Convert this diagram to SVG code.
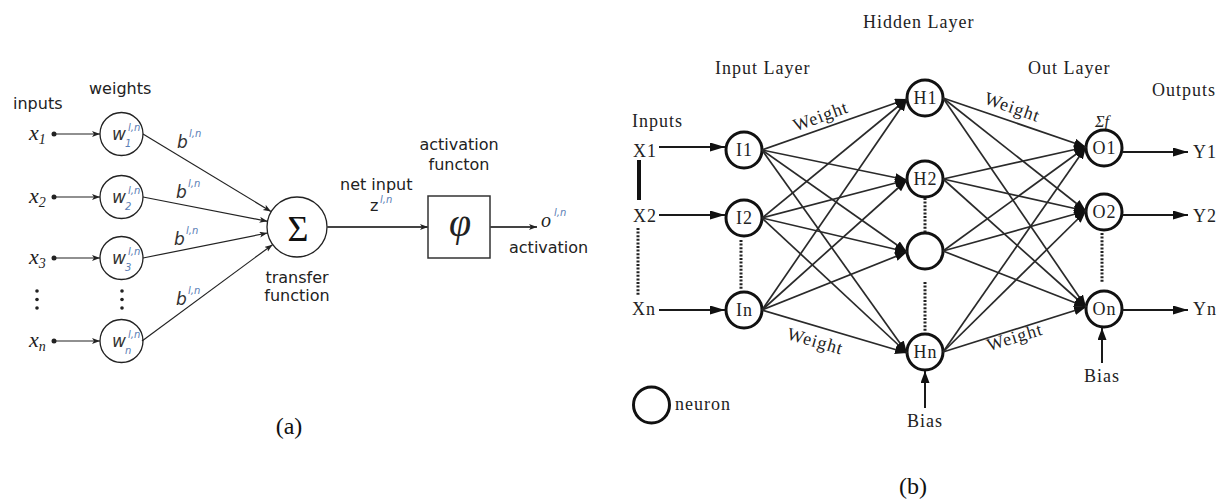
<svg xmlns="http://www.w3.org/2000/svg" width="1226" height="504" viewBox="0 0 1226 504">
  <style>
    .sans { font-family: "DejaVu Sans", Verdana, sans-serif; font-size: 16px; fill: #222; }
    .math { font-family: "Liberation Serif", "Times New Roman", serif; font-style: italic; fill: #222; }
    .ital { font-family: "DejaVu Sans", sans-serif; font-style: italic; fill: #333; }
    .sup { font-family: "DejaVu Sans", sans-serif; font-style: italic; font-size: 10px; fill: #5a7db5; }
    .serif { font-family: "Liberation Serif", "Times New Roman", serif; font-size: 18px; letter-spacing: 1px; fill: #222; }
    .cap { font-family: "Liberation Serif", "Times New Roman", serif; font-size: 24px; fill: #111; }
    .wcirc { fill: #fff; stroke: #222; stroke-width: 1.3; }
    .thin { stroke: #222; stroke-width: 1.2; fill: none; }
    .mid { stroke: #444; stroke-width: 2; fill: none; }
    .node { fill: #fff; stroke: #111; stroke-width: 3; }
    .net { stroke: #2a2a2a; stroke-width: 1.7; fill: none; }
    .io { stroke: #1a1a1a; stroke-width: 2; fill: none; }
    .dots { stroke: #222; stroke-width: 3; stroke-dasharray: 2 1.6; fill: none; }
  </style>
  <defs>
    <marker id="ah-small" markerUnits="userSpaceOnUse" markerWidth="9" markerHeight="7" refX="8" refY="3" orient="auto">
      <path d="M0,0 L8,3 L0,6 L2,3 z" fill="#222"/>
    </marker>
    <marker id="ah-big" markerUnits="userSpaceOnUse" markerWidth="16" markerHeight="10" refX="15" refY="4.5" orient="auto">
      <path d="M0,0 L15,4.5 L0,9 z" fill="#111"/>
    </marker>
    <marker id="ah-net" markerUnits="userSpaceOnUse" markerWidth="13" markerHeight="10" refX="12" refY="4.5" orient="auto">
      <path d="M0,0 L12,4.5 L0,9 z" fill="#111"/>
    </marker>
  </defs>

  <rect width="1226" height="504" fill="#fff"/>

  <!-- ===== (a) single artificial neuron ===== -->
  <g id="a-headings">
    <text class="sans" x="13" y="109">inputs</text>
    <text class="sans" x="89" y="94">weights</text>
  </g>

  <g id="a-inputs">
    <text class="math" x="29" y="140" font-size="22">x<tspan font-size="14" dy="4">1</tspan></text>
    <text class="math" x="29" y="203" font-size="22">x<tspan font-size="14" dy="4">2</tspan></text>
    <text class="math" x="29" y="264" font-size="22">x<tspan font-size="14" dy="4">3</tspan></text>
    <text class="math" x="29" y="347" font-size="22">x<tspan font-size="14" dy="4">n</tspan></text>
    <circle cx="54" cy="134" r="2.5" fill="#222"/>
    <circle cx="54" cy="197" r="2.5" fill="#222"/>
    <circle cx="54" cy="258" r="2.5" fill="#222"/>
    <circle cx="54" cy="341" r="2.5" fill="#222"/>
    <g fill="#222">
      <circle cx="37" cy="291" r="1.8"/><circle cx="37" cy="299.5" r="1.8"/><circle cx="37" cy="308" r="1.8"/>
      <circle cx="122" cy="291" r="1.8"/><circle cx="122" cy="299.5" r="1.8"/><circle cx="122" cy="308" r="1.8"/>
    </g>
  </g>

  <g id="a-w1">
    <circle class="wcirc" cx="121.5" cy="134" r="21.5"/>
    <text class="ital" x="112" y="140" font-size="17">w</text>
    <text class="sup" x="128" y="131">l,n</text>
    <text class="sup" x="125" y="147">1</text>
  </g>
  <g id="a-w2">
    <circle class="wcirc" cx="121.5" cy="197" r="21.5"/>
    <text class="ital" x="112" y="203" font-size="17">w</text>
    <text class="sup" x="128" y="194">l,n</text>
    <text class="sup" x="125" y="210">2</text>
  </g>
  <g id="a-w3">
    <circle class="wcirc" cx="121.5" cy="258" r="21.5"/>
    <text class="ital" x="112" y="264" font-size="17">w</text>
    <text class="sup" x="128" y="255">l,n</text>
    <text class="sup" x="125" y="271">3</text>
  </g>
  <g id="a-wn">
    <circle class="wcirc" cx="121.5" cy="341" r="21.5"/>
    <text class="ital" x="112" y="347" font-size="17">w</text>
    <text class="sup" x="128" y="338">l,n</text>
    <text class="sup" x="125" y="354">n</text>
  </g>

  <g id="a-bias">
    <text class="ital" x="177" y="148" font-size="17">b</text><text class="sup" x="189" y="137">l,n</text>
    <text class="ital" x="176" y="198" font-size="17">b</text><text class="sup" x="188" y="187">l,n</text>
    <text class="ital" x="174" y="245" font-size="17">b</text><text class="sup" x="186" y="234">l,n</text>
    <text class="ital" x="176" y="305" font-size="17">b</text><text class="sup" x="188" y="294">l,n</text>
  </g>

  <g id="a-sum">
    <circle class="wcirc" cx="297" cy="227" r="30"/>
    <text x="298" y="241" text-anchor="middle" font-family="Liberation Serif, serif" font-size="36" fill="#111">Σ</text>
    <text class="sans" x="297" y="283" text-anchor="middle" font-size="15.5">transfer</text>
    <text class="sans" x="297" y="301" text-anchor="middle" font-size="15.5">function</text>
  </g>

  <g id="a-net">
    <text class="sans" x="340" y="190">net input</text>
    <text class="sans" x="370" y="211" font-size="17">z</text>
    <text class="sup" x="380" y="203">l,n</text>
  </g>

  <g id="a-activation">
    <rect x="428" y="196" width="62" height="62" fill="#fff" stroke="#333" stroke-width="1.5"/>
    <text class="math" x="460" y="236" text-anchor="middle" font-size="40">φ</text>
    <text class="sans" x="459" y="150" text-anchor="middle">activation</text>
    <text class="sans" x="459" y="170" text-anchor="middle">functon</text>
  </g>

  <g id="a-output">
    <text class="math" x="541" y="227" font-size="20">o</text>
    <text class="sup" x="554" y="216">l,n</text>
    <text class="sans" x="509" y="253">activation</text>
  </g>

  <g id="a-connectors">
    <line class="thin" x1="56" y1="134" x2="100" y2="134" marker-end="url(#ah-small)"/>
    <line class="thin" x1="56" y1="197" x2="100" y2="197" marker-end="url(#ah-small)"/>
    <line class="thin" x1="56" y1="258" x2="100" y2="258" marker-end="url(#ah-small)"/>
    <line class="thin" x1="56" y1="341" x2="100" y2="341" marker-end="url(#ah-small)"/>
    <line class="thin" x1="143" y1="134" x2="271" y2="211.5" marker-end="url(#ah-small)"/>
    <line class="thin" x1="143" y1="197" x2="267.5" y2="221.3" marker-end="url(#ah-small)"/>
    <line class="thin" x1="143" y1="258" x2="267.5" y2="233" marker-end="url(#ah-small)"/>
    <line class="thin" x1="142" y1="341" x2="272.5" y2="244.7" marker-end="url(#ah-small)"/>
    <line class="mid" x1="327" y1="227" x2="428" y2="227" marker-end="url(#ah-small)"/>
    <line class="mid" x1="490" y1="227" x2="537" y2="227" marker-end="url(#ah-small)"/>
  </g>

  <text class="cap" x="289" y="434" text-anchor="middle">(a)</text>

  <!-- ===== (b) multilayer network ===== -->
  <g id="b-headings">
    <text class="serif" x="863" y="28">Hidden Layer</text>
    <text class="serif" x="715" y="74">Input Layer</text>
    <text class="serif" x="1028" y="74">Out Layer</text>
    <text class="serif" x="1152" y="96">Outputs</text>
    <text class="serif" x="632" y="127">Inputs</text>
    <text x="1102" y="127" text-anchor="middle" font-family="Liberation Serif, serif" font-style="italic" font-size="16" fill="#222">Σf</text>
  </g>

  <g id="b-inputs">
    <text class="serif" x="633" y="157">X1</text>
    <text class="serif" x="633" y="222">X2</text>
    <text class="serif" x="632" y="315">Xn</text>
    <line x1="639" y1="160" x2="639" y2="200" stroke="#111" stroke-width="4"/>
    <line class="dots" x1="638" y1="228" x2="638" y2="295"/>
  </g>

  <g id="node-I1"><circle class="node" cx="744" cy="150" r="18"/><text class="serif" x="744.5" y="156" text-anchor="middle">I1</text></g>
  <g id="node-I2"><circle class="node" cx="744" cy="218" r="18"/><text class="serif" x="744.5" y="224" text-anchor="middle">I2</text></g>
  <g id="node-In"><circle class="node" cx="744" cy="310" r="18"/><text class="serif" x="744.5" y="316" text-anchor="middle">In</text></g>
  <g id="node-H1"><circle class="node" cx="925" cy="98" r="18"/><text class="serif" x="925.5" y="104" text-anchor="middle">H1</text></g>
  <g id="node-H2"><circle class="node" cx="925" cy="179" r="18"/><text class="serif" x="925.5" y="185" text-anchor="middle">H2</text></g>
  <g id="node-H3"><circle class="node" cx="925" cy="251" r="18"/></g>
  <g id="node-Hn"><circle class="node" cx="925" cy="352" r="18"/><text class="serif" x="925.5" y="358" text-anchor="middle">Hn</text></g>
  <g id="node-O1"><circle class="node" cx="1104" cy="148" r="18"/><text class="serif" x="1104.5" y="154" text-anchor="middle">O1</text></g>
  <g id="node-O2"><circle class="node" cx="1104" cy="212" r="18"/><text class="serif" x="1104.5" y="218" text-anchor="middle">O2</text></g>
  <g id="node-On"><circle class="node" cx="1104" cy="309" r="18"/><text class="serif" x="1104.5" y="315" text-anchor="middle">On</text></g>

  <g id="b-outputs">
    <text class="serif" x="1193" y="158">Y1</text>
    <text class="serif" x="1193" y="222">Y2</text>
    <text class="serif" x="1193" y="315">Yn</text>
  </g>

  <g id="b-bias">
    <text class="serif" x="925" y="427" text-anchor="middle">Bias</text>
    <text class="serif" x="1102" y="382" text-anchor="middle">Bias</text>
  </g>

  <g id="b-legend">
    <circle class="node" cx="651.5" cy="405" r="18"/>
    <text class="serif" x="675" y="410">neuron</text>
  </g>

  <g id="b-weights" class="serif" font-size="17">
    <text transform="translate(821,117) rotate(-20)" x="0" y="5" text-anchor="middle">Weight</text>
    <text transform="translate(815,342) rotate(16)" x="0" y="5" text-anchor="middle">Weight</text>
    <text transform="translate(1012,108) rotate(19)" x="0" y="5" text-anchor="middle">Weight</text>
    <text transform="translate(1015,338) rotate(-17)" x="0" y="5" text-anchor="middle">Weight</text>
  </g>

  <g id="b-connectors">
    <!-- external inputs and outputs -->
    <line class="io" x1="659" y1="147" x2="725" y2="147" marker-end="url(#ah-big)"/>
    <line class="io" x1="659" y1="215" x2="725" y2="215" marker-end="url(#ah-big)"/>
    <line class="io" x1="659" y1="310" x2="725" y2="310" marker-end="url(#ah-big)"/>
    <line class="io" x1="1122" y1="152" x2="1188" y2="152" marker-end="url(#ah-big)"/>
    <line class="io" x1="1122" y1="215" x2="1188" y2="215" marker-end="url(#ah-big)"/>
    <line class="io" x1="1122" y1="310" x2="1188" y2="310" marker-end="url(#ah-big)"/>
    <!-- bias inputs -->
    <line class="io" x1="925" y1="408" x2="925" y2="371" marker-end="url(#ah-net)"/>
    <line class="io" x1="1102" y1="363" x2="1102" y2="328" marker-end="url(#ah-net)"/>
    <!-- elided neurons -->
    <line class="dots" x1="741" y1="240" x2="741" y2="290"/>
    <line class="dots" x1="925" y1="198" x2="925" y2="232"/>
    <line class="dots" x1="925" y1="282" x2="925" y2="332"/>
    <line class="dots" x1="1102" y1="233" x2="1102" y2="283"/>
    <!-- input layer to hidden layer -->
    <g marker-end="url(#ah-net)">
      <line class="net" x1="762" y1="150" x2="907" y2="99"/>
      <line class="net" x1="762" y1="150" x2="907" y2="180"/>
      <line class="net" x1="762" y1="150" x2="907" y2="252"/>
      <line class="net" x1="762" y1="150" x2="907" y2="353"/>
      <line class="net" x1="762" y1="218" x2="907" y2="99"/>
      <line class="net" x1="762" y1="218" x2="907" y2="180"/>
      <line class="net" x1="762" y1="218" x2="907" y2="252"/>
      <line class="net" x1="762" y1="218" x2="907" y2="353"/>
      <line class="net" x1="762" y1="310" x2="907" y2="99"/>
      <line class="net" x1="762" y1="310" x2="907" y2="180"/>
      <line class="net" x1="762" y1="310" x2="907" y2="252"/>
      <line class="net" x1="762" y1="310" x2="907" y2="353"/>
    </g>
    <!-- hidden layer to output layer -->
    <g marker-end="url(#ah-net)">
      <line class="net" x1="943" y1="98" x2="1086" y2="147"/>
      <line class="net" x1="943" y1="98" x2="1086" y2="211"/>
      <line class="net" x1="943" y1="98" x2="1086" y2="307"/>
      <line class="net" x1="943" y1="179" x2="1086" y2="147"/>
      <line class="net" x1="943" y1="179" x2="1086" y2="211"/>
      <line class="net" x1="943" y1="179" x2="1086" y2="307"/>
      <line class="net" x1="943" y1="251" x2="1086" y2="147"/>
      <line class="net" x1="943" y1="251" x2="1086" y2="211"/>
      <line class="net" x1="943" y1="251" x2="1086" y2="307"/>
      <line class="net" x1="943" y1="352" x2="1086" y2="147"/>
      <line class="net" x1="943" y1="352" x2="1086" y2="211"/>
      <line class="net" x1="943" y1="352" x2="1086" y2="307"/>
    </g>
  </g>

  <text class="cap" x="913" y="494" text-anchor="middle">(b)</text>
</svg>
